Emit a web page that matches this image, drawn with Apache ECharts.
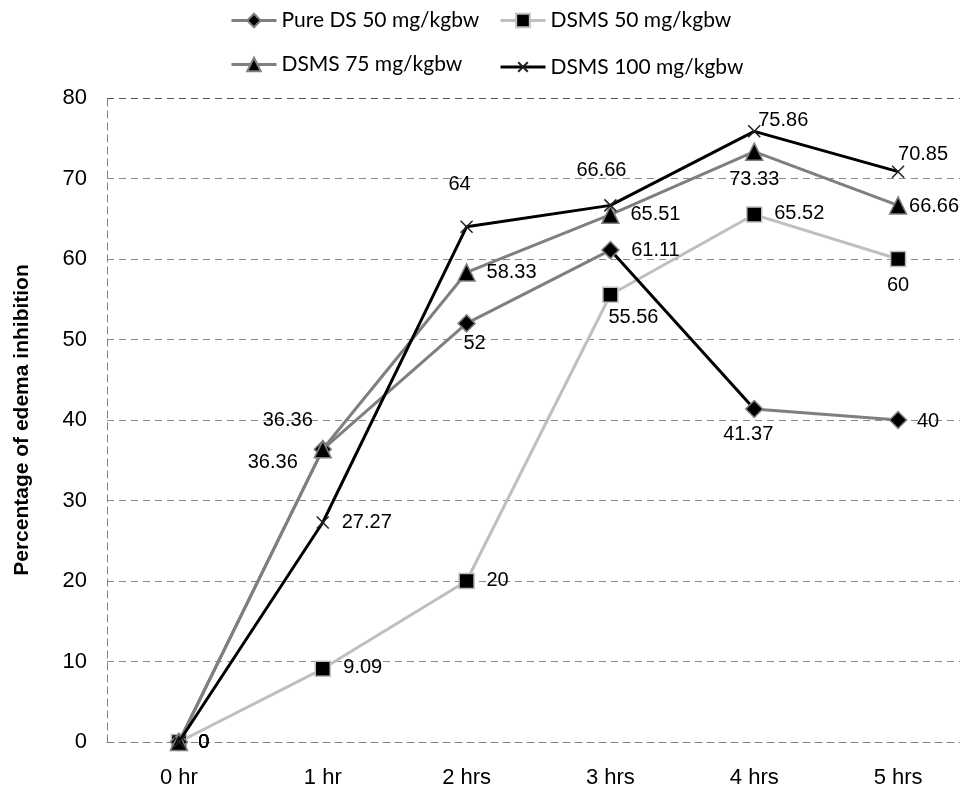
<!DOCTYPE html>
<html>
<head>
<meta charset="utf-8">
<script src="https://cdn.jsdelivr.net/npm/echarts@6/dist/echarts.min.js"></script>
<style>
  html, body { margin: 0; padding: 0; background: #fff; }
  #chart { width: 960px; height: 785px; }
</style>
</head>
<body>
<div id="chart"></div>
<script>
// Time points after carrageenan injection
var categories = ['0 hr', '1 hr', '2 hrs', '3 hrs', '4 hrs', '5 hrs'];

// Percentage of edema inhibition per treatment group
var pureDS50 = [0, 36.36, 52, 61.11, 41.37, 40];
var dsms50 = [0, 9.09, 20, 55.56, 65.52, 60];
var dsms75 = [0, 36.36, 58.33, 65.51, 73.33, 66.66];
var dsms100 = [0, 27.27, 64, 66.66, 75.86, 70.85];

var seriesNames = ['Pure DS 50 mg/kgbw', 'DSMS 50 mg/kgbw', 'DSMS 75 mg/kgbw', 'DSMS 100 mg/kgbw'];
var yTicks = { min: 0, max: 80, step: 10 };

// Value label placement: centre offset [dx, dy] from each point
var labelOffsets = [
  [[25, 0], [-50, 13], [8, 20], [45, 0], [-6, 26], [30, 1]],
  [[25, 0], [40, -1], [31, -1], [23, 23], [45, -1], [0, 26]],
  [[25, 0], [-35, -29], [45, 0], [45, 0], [0, 28], [36, 1]],
  [[25, 0], [44, 0], [-7, -42], [-9, -35], [29, -11], [25, -17]]
];

var FONT = '"Liberation Sans", Arial, sans-serif';
var GREY = '#7f7f7f';
var LIGHT = '#bfbfbf';

function withLabels(values, offsets, itemColor) {
  return values.map(function (v, i) {
    var item = {
      value: v,
      label: { offset: offsets[i] }
    };
    if (itemColor) item.itemStyle = { color: itemColor };
    return item;
  });
}

var baseLabel = {
  show: true,
  position: 'inside',
  align: 'center',
  verticalAlign: 'middle',
  fontFamily: FONT,
  fontSize: 20,
  color: '#000'
};

var crossPath = 'path://M0,0L10,10M10,0L0,10';

// Dashed gridlines, the top one a little darker
var gridColors = [];
for (var k = yTicks.min; k < yTicks.max; k += yTicks.step) gridColors.push('#8a8a8a');
gridColors.push('#555');

function legendAt(name, left, top, lineColor, iconHeight) {
  var entry = { name: name };
  if (lineColor) entry.lineStyle = { color: lineColor, width: 3 };
  var h = iconHeight || 17;
  return {
    data: [entry],
    left: left,
    top: top + (17 - h) / 2,
    itemWidth: 45,
    itemHeight: h,
    selectedMode: false,
    lineStyle: { width: 3 },
    textStyle: { fontFamily: 'Lato, "Open Sans", sans-serif', fontSize: 21, color: '#000' }
  };
}

var option = {
  backgroundColor: '#fff',
  animation: false,
  grid: { left: 107, right: -10, top: 98, bottom: 43, containLabel: false, outerBoundsMode: 'none' },
  legend: [
    legendAt(seriesNames[0], 225, 5, GREY),
    legendAt(seriesNames[1], 494, 5),
    legendAt(seriesNames[2], 225, 49),
    legendAt(seriesNames[3], 494, 49, null, 12)
  ],
  visualMap: {
    show: false,
    type: 'piecewise',
    seriesIndex: 0,
    dimension: 0,
    pieces: [{ gt: 3, lt: 4, color: '#000' }],
    outOfRange: { color: GREY }
  },
  xAxis: {
    type: 'category',
    data: categories,
    boundaryGap: true,
    axisLine: { show: true, lineStyle: { color: '#808080', type: [7, 5], width: 1 } },
    axisTick: { show: false },
    axisLabel: { fontFamily: FONT, fontSize: 22, color: '#000', margin: 25 },
    splitLine: { show: false }
  },
  yAxis: {
    type: 'value',
    min: yTicks.min,
    max: yTicks.max,
    interval: yTicks.step,
    name: 'Percentage of edema inhibition',
    nameLocation: 'middle',
    nameGap: 74,
    nameTextStyle: { fontFamily: FONT, fontSize: 21, fontWeight: 'bold', color: '#000' },
    axisLine: { show: true, lineStyle: { color: '#808080', type: [7, 5], width: 1 } },
    axisTick: { show: false },
    axisLabel: { fontFamily: FONT, fontSize: 22, color: '#000', margin: 20 },
    splitLine: { show: true, lineStyle: { color: gridColors, type: [7, 5], width: 1 } }
  },
  series: [
    {
      name: seriesNames[0],
      type: 'line',
      data: withLabels(pureDS50, labelOffsets[0], '#000'),
      symbol: 'diamond',
      symbolSize: 17,
      lineStyle: { width: 3 },
      itemStyle: { color: '#000', borderColor: GREY, borderWidth: 1.5 },
      label: baseLabel,
      z: 3
    },
    {
      name: seriesNames[1],
      type: 'line',
      data: withLabels(dsms50, labelOffsets[1]),
      symbol: 'rect',
      symbolSize: 15,
      lineStyle: { color: LIGHT, width: 3 },
      itemStyle: { color: '#000', borderColor: LIGHT, borderWidth: 1.5 },
      label: baseLabel,
      z: 2
    },
    {
      name: seriesNames[2],
      type: 'line',
      data: withLabels(dsms75, labelOffsets[2]),
      symbol: 'triangle',
      symbolSize: 17,
      lineStyle: { color: GREY, width: 3 },
      itemStyle: { color: '#000', borderColor: GREY, borderWidth: 1.5 },
      label: baseLabel,
      z: 4
    },
    {
      name: seriesNames[3],
      type: 'line',
      data: withLabels(dsms100, labelOffsets[3]),
      symbol: crossPath,
      symbolSize: 12,
      lineStyle: { color: '#000', width: 3 },
      itemStyle: { color: '#fff', borderColor: '#222', borderWidth: 1.5 },
      label: baseLabel,
      z: 5
    }
  ]
};

var chart = echarts.init(document.getElementById('chart'), null, { renderer: 'canvas' });
chart.setOption(option);
</script>
</body>
</html>
